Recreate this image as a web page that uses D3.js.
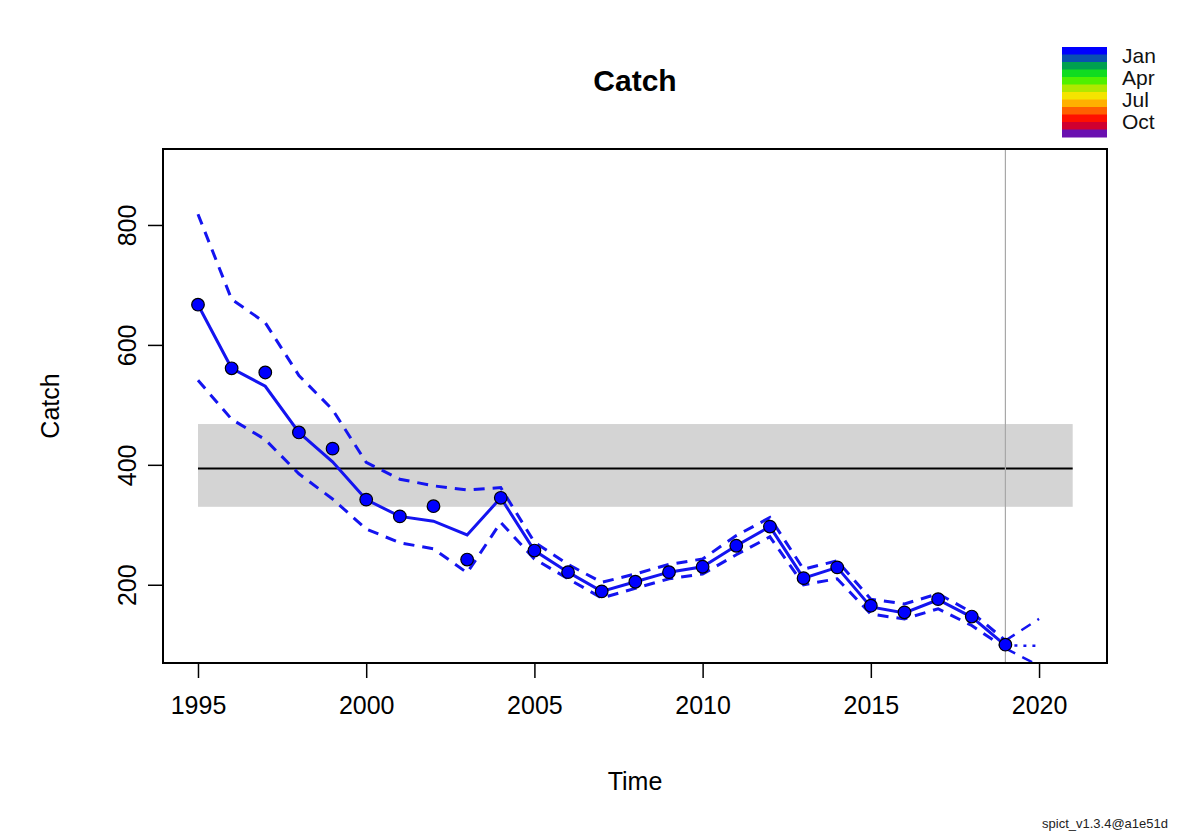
<!DOCTYPE html>
<html>
<head>
<meta charset="utf-8">
<script src="https://cdn.jsdelivr.net/npm/d3@7"></script>
<style>
  body { margin: 0; background: #fff; }
  text { font-family: "Liberation Sans", Arial, sans-serif; }
</style>
</head>
<body>
<div id="chart"></div>
<script>
const years = d3.range(1995, 2020)
const obsCatch = [667, 561, 554, 454, 427, 342, 314, 331, 242, 345, 257, 221, 189, 205, 221, 230, 265, 297, 211, 229, 165, 154, 176, 147, 100]
const fitCatch = [667, 561, 531, 454, 405, 342, 314, 306, 283, 345, 257, 221, 189, 205, 221, 230, 265, 297, 211, 229, 163, 153, 175, 146, 99]
const upperCI = [818, 676, 637, 549, 492, 404, 376, 365, 358, 362, 271, 234, 204, 218, 234, 243, 282, 312, 226, 240, 176, 168, 185, 154, 107]
const lowerCI = [541, 476, 442, 385, 343, 293, 270, 260, 220, 304, 243, 210, 178, 194, 210, 218, 250, 280, 200, 210, 151, 143, 160, 132, 94]

// forecast part
const fcYears = [2019, 2020]
const fcFit = [99, 98]
const fcUpper = [107, 143]
const fcLower = [94, 65]

// MSY and its band
const msy = 394
const msyBand = [330, 468]
const bandYears = [1995, 2021]
const lastObsYear = 2019

const xTicks = [1995, 2000, 2005, 2010, 2015, 2020]
const yTicks = [200, 400, 600, 800]

const months = ["Jan", "Feb", "Mar", "Apr", "May", "Jun", "Jul", "Aug", "Sep", "Oct", "Nov", "Dec"]
const monthColors = ["#0000ff", "#0a4fb0", "#00a050", "#10dc20", "#50f000", "#b0e800", "#f4e400", "#ffb000", "#ff6000", "#ff1000", "#d00030", "#6a10b0"]
const legendMonths = ["Jan", "Apr", "Jul", "Oct"]

const width = 1200, height = 836
const margin = {top: 149, right: 93, bottom: 173, left: 163}
const plotW = width - margin.left - margin.right
const plotH = height - margin.top - margin.bottom

const svg = d3.select("#chart").append("svg")
  .attr("width", width)
  .attr("height", height)

const x = d3.scaleLinear().domain([1993.96, 2022.02]).range([margin.left, margin.left + plotW])
const y = d3.scaleLinear().domain([69.5, 926.7]).range([margin.top + plotH, margin.top])

svg.append("clipPath").attr("id", "clip")
  .append("rect")
  .attr("x", margin.left).attr("y", margin.top)
  .attr("width", plotW).attr("height", plotH)

const plot = svg.append("g").attr("clip-path", "url(#clip)")

// MSY band
plot.append("rect")
  .attr("x", x(bandYears[0]))
  .attr("width", x(bandYears[1]) - x(bandYears[0]))
  .attr("y", y(msyBand[1]))
  .attr("height", y(msyBand[0]) - y(msyBand[1]))
  .attr("fill", "#d4d4d4")

plot.append("line")
  .attr("x1", x(bandYears[0])).attr("x2", x(bandYears[1]))
  .attr("y1", y(msy)).attr("y2", y(msy))
  .attr("stroke", "#000").attr("stroke-width", 2)

// end of observations
plot.append("line")
  .attr("x1", x(lastObsYear)).attr("x2", x(lastObsYear))
  .attr("y1", margin.top).attr("y2", margin.top + plotH)
  .attr("stroke", "#a8a8a8").attr("stroke-width", 1.2)

const line = d3.line().x(d => x(d[0])).y(d => y(d[1]))
const pair = (xs, vs) => xs.map((v, i) => [v, vs[i]])

const blue = "#1414f0"

plot.append("path").datum(pair(years, upperCI))
  .attr("d", line).attr("fill", "none")
  .attr("stroke", blue).attr("stroke-width", 3).attr("stroke-dasharray", "11,8")
plot.append("path").datum(pair(years, lowerCI))
  .attr("d", line).attr("fill", "none")
  .attr("stroke", blue).attr("stroke-width", 3).attr("stroke-dasharray", "11,8")
plot.append("path").datum(pair(years, fitCatch))
  .attr("d", line).attr("fill", "none")
  .attr("stroke", blue).attr("stroke-width", 3)

// forecast
;[fcUpper, fcLower].forEach(v => {
  plot.append("path").datum(pair(fcYears, v))
    .attr("d", line).attr("fill", "none")
    .attr("stroke", blue).attr("stroke-width", 2.5).attr("stroke-dasharray", "11,8")
})
plot.append("path").datum(pair(fcYears, fcFit))
  .attr("d", line).attr("fill", "none")
  .attr("stroke", blue).attr("stroke-width", 2.5).attr("stroke-dasharray", "3,6")

// observations, coloured by month (all January)
plot.selectAll("circle.obs")
  .data(pair(years, obsCatch))
  .enter().append("circle")
  .attr("class", "obs")
  .attr("cx", d => x(d[0]))
  .attr("cy", d => y(d[1]))
  .attr("r", 6.3)
  .attr("fill", monthColors[0])
  .attr("stroke", "#000")
  .attr("stroke-width", 1.2)

// frame
svg.append("rect")
  .attr("x", margin.left).attr("y", margin.top)
  .attr("width", plotW).attr("height", plotH)
  .attr("fill", "none").attr("stroke", "#000").attr("stroke-width", 2)

// axes
const xAxis = svg.append("g")
  .attr("transform", "translate(0," + (margin.top + plotH) + ")")
  .call(d3.axisBottom(x).tickValues(xTicks).tickFormat(d3.format("d")).tickSize(15).tickPadding(18))
xAxis.select(".domain").remove()
xAxis.selectAll("line").attr("stroke", "#000").attr("stroke-width", 1.5)
xAxis.selectAll("text").attr("font-size", 25).attr("fill", "#000")
  .style("font-family", "'Liberation Sans', Arial, sans-serif")

const yAxis = svg.append("g")
  .attr("transform", "translate(" + margin.left + ",0)")
  .call(d3.axisLeft(y).tickValues(yTicks).tickSize(15).tickPadding(0).tickFormat(d3.format("d")))
yAxis.select(".domain").remove()
yAxis.selectAll("line").attr("stroke", "#000").attr("stroke-width", 1.5)
yAxis.selectAll("text")
  .attr("font-size", 25).attr("fill", "#000")
  .attr("x", null).attr("dy", null)
  .attr("text-anchor", "middle")
  .attr("transform", "translate(-27,0) rotate(-90)")
  .style("font-family", "'Liberation Sans', Arial, sans-serif")

// titles
svg.append("text")
  .attr("x", margin.left + plotW / 2).attr("y", 91)
  .attr("text-anchor", "middle")
  .attr("font-size", 30).attr("font-weight", "bold")
  .text("Catch")

svg.append("text")
  .attr("x", margin.left + plotW / 2).attr("y", 790)
  .attr("text-anchor", "middle")
  .attr("font-size", 25)
  .text("Time")

svg.append("text")
  .attr("transform", "translate(59," + (margin.top + plotH / 2) + ") rotate(-90)")
  .attr("text-anchor", "middle")
  .attr("font-size", 25)
  .text("Catch")

// month colour legend
const legendX = 1062, legendY = 47, legendW = 45, legendH = 90
const bandH = legendH / months.length
svg.selectAll("rect.month")
  .data(months)
  .enter().append("rect")
  .attr("class", "month")
  .attr("x", legendX)
  .attr("y", (d, i) => legendY + i * bandH)
  .attr("width", legendW)
  .attr("height", bandH + 0.5)
  .attr("fill", (d, i) => monthColors[i])

svg.selectAll("text.month")
  .data(legendMonths)
  .enter().append("text")
  .attr("class", "month")
  .attr("x", 1122)
  .attr("y", (d, i) => 63 + i * 22)
  .attr("font-size", 21)
  .attr("fill", "#111")
  .text(d => d)

svg.append("text")
  .attr("x", 1168).attr("y", 828)
  .attr("text-anchor", "end")
  .attr("font-size", 13)
  .attr("fill", "#222")
  .text("spict_v1.3.4@a1e51d")
</script>
</body>
</html>
